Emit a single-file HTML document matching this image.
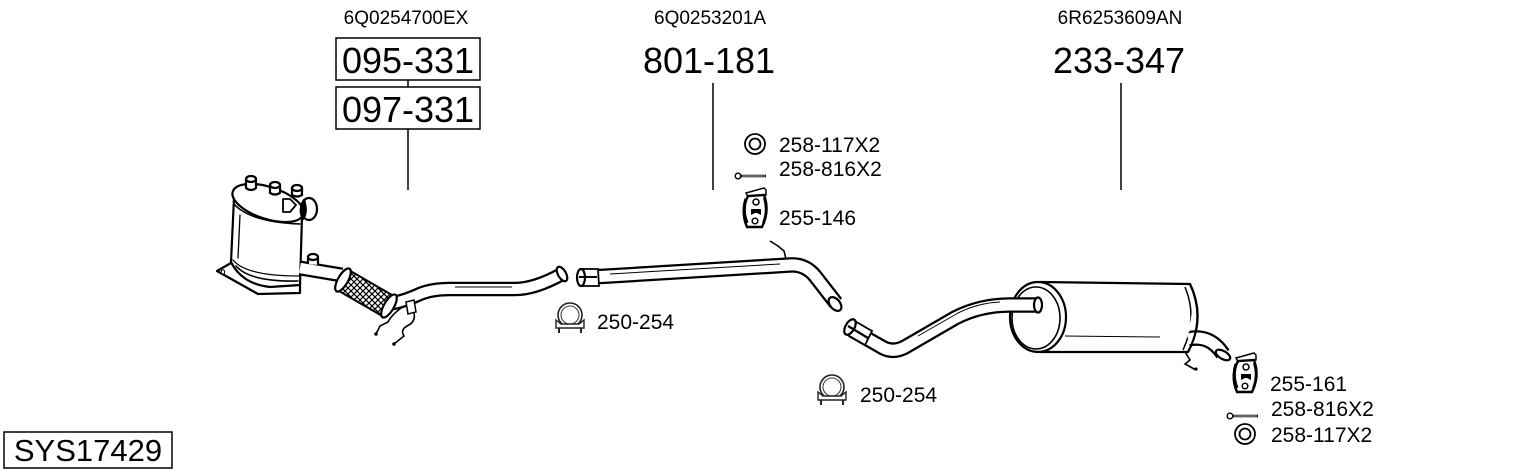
<!DOCTYPE html>
<html><head><meta charset="utf-8"><style>
html,body{margin:0;padding:0;background:#fff;}
svg{display:block;}
text{font-family:"Liberation Sans",Arial,sans-serif;fill:#000;}
</style></head><body>
<svg width="1530" height="474" viewBox="0 0 1530 474" xmlns="http://www.w3.org/2000/svg">
<defs>
<pattern id="hatch" width="6" height="6" patternUnits="userSpaceOnUse">
<rect width="6" height="6" fill="#fff"/>
<path d="M0,0 L6,6 M6,0 L0,6" stroke="#000" stroke-width="1.2"/>
</pattern>
<g id="hanger">
<path d="M4,8 L22,3 L24,5 L24,10 L6,12 Z" fill="#fff" stroke="#000" stroke-width="1.5"/>
<path d="M6,11 Q-2,26 5,42 L20,42 Q28,26 22,10 Z" fill="#fff" stroke="#000" stroke-width="2.4"/>
<path d="M4,14 Q0,26 5,38" fill="none" stroke="#000" stroke-width="3.2"/>
<path d="M22,13 Q26,26 21,38" fill="none" stroke="#000" stroke-width="2"/>
<circle cx="14" cy="17" r="3" fill="#fff" stroke="#000" stroke-width="1.5"/>
<path d="M9,24 L19,24 L19,30 L15,28 L13,28 L9,30 Z" fill="#000"/>
<circle cx="13" cy="36" r="2.8" fill="#fff" stroke="#000" stroke-width="1.5"/>
</g>
<g id="clamp">
<circle cx="15" cy="13" r="12" fill="#fff" stroke="#222" stroke-width="1.6"/>
<circle cx="15" cy="13" r="9" fill="#fff" stroke="#444" stroke-width="1.1"/>
<path d="M1,18 L6,22 L24,22 L29,18 L29,26 L1,26 Z" fill="#fff" stroke="#222" stroke-width="1.4"/>
<path d="M4,26 L4,31 M26,26 L26,31" stroke="#222" stroke-width="2"/>
</g>
<g id="washer">
<circle cx="0" cy="0" r="10" fill="#fff" stroke="#000" stroke-width="1.8"/>
<circle cx="0" cy="0" r="5.5" fill="#fff" stroke="#000" stroke-width="1.8"/>
</g>
<g id="bolt">
<circle cx="3" cy="0" r="2.8" fill="#fff" stroke="#000" stroke-width="1.4"/>
<path d="M6,0 L31,0" stroke="#000" stroke-width="2.4"/>
<path d="M7,0 L30,0" stroke="#fff" stroke-width="0.8"/>
</g>
</defs>

<!-- top labels -->
<text x="406" y="24" font-size="19" text-anchor="middle">6Q0254700EX</text>
<text x="710" y="24" font-size="19" text-anchor="middle">6Q0253201A</text>
<text x="1120" y="24" font-size="19" text-anchor="middle">6R6253609AN</text>

<rect x="336" y="38" width="144" height="42" fill="#fff" stroke="#000" stroke-width="1.5"/>
<text x="408" y="73" font-size="36" text-anchor="middle">095-331</text>
<line x1="408" y1="80" x2="408" y2="87" stroke="#000" stroke-width="1.5"/>
<rect x="336" y="87" width="144" height="42" fill="#fff" stroke="#000" stroke-width="1.5"/>
<text x="408" y="122" font-size="36" text-anchor="middle">097-331</text>
<line x1="408" y1="129" x2="408" y2="190" stroke="#000" stroke-width="1.5"/>

<text x="709" y="73" font-size="36" text-anchor="middle">801-181</text>
<line x1="713" y1="83" x2="713" y2="190" stroke="#000" stroke-width="1.5"/>
<text x="1119" y="73" font-size="36" text-anchor="middle">233-347</text>
<line x1="1121" y1="83" x2="1121" y2="190" stroke="#000" stroke-width="1.5"/>

<!-- SYS box -->
<rect x="4" y="432" width="168" height="36" fill="#fff" stroke="#000" stroke-width="1.5"/>
<text x="88" y="461" font-size="31" text-anchor="middle">SYS17429</text>

<!-- ===== Catalyst / DPF ===== -->
<g stroke="#000" stroke-width="2.2" fill="#fff" stroke-linejoin="round" stroke-linecap="round">
<path d="M217,271 L231,263 L262,283 L300,283 L300,293 L258,294 Z"/>
<path d="M222,272 m-0.5,0 a1.6,1.6 0 1,0 3,0 a1.6,1.6 0 1,0 -3,0" stroke-width="1"/>
<path d="M234,198 L231,262 Q242,284 270,287 L300,285 L302,216 Z"/>
<path d="M236,266 Q250,282 298,281" fill="none" stroke-width="1.6"/>
<path d="M233,260 Q246,276 299,276" fill="none" stroke-width="1.3"/>
<path d="M240,215 L238,258" fill="none" stroke-width="1.3"/>
<ellipse cx="268" cy="203" rx="37" ry="16" transform="rotate(18 268 203)"/>
<path d="M234,204 Q250,222 300,224" fill="none" stroke-width="1.6"/>
<!-- nozzles -->
<path d="M246,179 L246,188 Q251,192 256,188 L256,179" />
<ellipse cx="251" cy="179" rx="5" ry="3"/>
<path d="M270,185 L270,193 Q275,196 280,193 L280,185"/>
<ellipse cx="275" cy="185" rx="5" ry="3"/>
<path d="M292,188 L292,195 Q297,198 302,195 L302,188"/>
<ellipse cx="297" cy="188" rx="5" ry="3"/>
<path d="M283,199 L290,199 L296,205 L290,212 L283,212 Z" stroke-width="1.8"/>
<ellipse cx="309" cy="209" rx="8" ry="11"/>
<path d="M304,200 Q298,210 303,219 Q308,212 304,200 Z" fill="#000"/>
</g>

<!-- left pipe (outlet + downpipe) -->
<g fill="none" stroke-linecap="butt" stroke-linejoin="round">
<path d="M300,268 L342,275" stroke="#000" stroke-width="15"/>
<path d="M300,268 L342,275" stroke="#fff" stroke-width="10.5"/>
<path d="M386,304 Q400,303 420,294 Q432,289 450,289 L515,289 Q535,289 562,274" stroke="#000" stroke-width="14.5"/>
<path d="M386,304 Q400,303 420,294 Q432,289 450,289 L515,289 Q535,289 562,274" stroke="#fff" stroke-width="10"/>
<path d="M455,287 L512,287" stroke="#000" stroke-width="1"/>
<!-- flex -->
<path d="M343,280 L388,306" stroke="#000" stroke-width="25"/>
<path d="M343,280 L388,306" stroke="url(#hatch)" stroke-width="21"/>
</g>
<g stroke="#000" stroke-width="2.2" fill="#fff">
<ellipse cx="343" cy="280" rx="5" ry="13" transform="rotate(30 343 280)"/>
<ellipse cx="389" cy="306" rx="5" ry="13" transform="rotate(30 389 306)"/>
<ellipse cx="562" cy="274" rx="4" ry="8" transform="rotate(-30 562 274)"/>
<path d="M308,264 L308,257 Q313,254 318,257 L318,265" />
<ellipse cx="313" cy="257" rx="5" ry="3"/>
<path d="M406,302 L414,300 L416,312 L408,314 Z" stroke-width="1.5"/>
</g>
<g fill="none" stroke="#000" stroke-width="1.6">
<path d="M404,306 Q392,314 388,322 L380,326 L376,334"/>
<path d="M414,313 Q416,322 407,326 Q400,330 404,336 L394,344"/>
</g>
<circle cx="376" cy="334" r="1.8" fill="#000"/>
<circle cx="394" cy="344" r="1.8" fill="#000"/>

<!-- clamp 1 -->
<use href="#clamp" x="555" y="302"/>
<text x="597" y="329" font-size="21">250-254</text>

<!-- ===== middle pipe ===== -->
<g fill="none" stroke-linejoin="round">
<path d="M592,277 L790,265 Q805,264 815,276 L836,303" stroke="#000" stroke-width="15.5"/>
<path d="M592,277 L790,265 Q805,264 815,276 L836,303" stroke="#fff" stroke-width="11"/>
<path d="M610,274 L780,264" stroke="#000" stroke-width="1"/>
<path d="M770,241 L778,246 L784,251 L786,259" stroke="#000" stroke-width="1.6"/>
</g>
<g stroke="#000" stroke-width="2.2" fill="#fff">
<path d="M581,269 L598,269 L599,286 L581,286 Z" stroke-width="1.8"/>
<ellipse cx="581" cy="277.5" rx="4" ry="8.5"/>
<path d="M579,277 L597,277" stroke-width="2"/>
<ellipse cx="835" cy="304" rx="5" ry="8" transform="rotate(-40 835 304)"/>
</g>

<!-- middle small parts -->
<use href="#washer" x="755" y="144"/>
<text x="779" y="152" font-size="21">258-117X2</text>
<use href="#bolt" x="735" y="176"/>
<text x="779" y="176" font-size="21">258-816X2</text>
<use href="#hanger" x="742" y="185"/>
<text x="779" y="225" font-size="21">255-146</text>

<!-- ===== muffler ===== -->
<g stroke="#000" stroke-width="2.2" fill="#fff" stroke-linejoin="round">
<path d="M1040,282 L1190,284 Q1206,318 1188,352 L1040,352 Z"/>
<path d="M1065,336 L1160,337" fill="none" stroke-width="1"/>
<path d="M1185,287 Q1198,318 1183,350" fill="none" stroke-width="1.5"/>
</g>
<!-- tail pipe -->
<g fill="none">
<path d="M1188,339 Q1210,334 1223,354" stroke="#000" stroke-width="15.5"/>
<path d="M1188,339 Q1210,334 1223,354" stroke="#fff" stroke-width="11"/>
</g>
<g stroke="#000" stroke-width="2.2" fill="#fff">
<path d="M1186,334 Q1198,318 1190,290" fill="none" stroke="#fff" stroke-width="3"/>
<path d="M1190,284 Q1206,318 1188,352" fill="none"/>
<ellipse cx="1223" cy="355" rx="4" ry="8" transform="rotate(-60 1223 355)"/>
<ellipse cx="1038" cy="317" rx="28" ry="35"/>
<ellipse cx="1036" cy="318" rx="24" ry="31" stroke-width="1.6"/>
</g>
<path d="M1185,352 L1190,360 L1185,364 L1196,370" fill="none" stroke="#000" stroke-width="1.6"/>
<circle cx="1196" cy="369" r="1.6" fill="#000"/>

<!-- rear pipe -->
<g fill="none" stroke-linejoin="round">
<path d="M852,330 L880,346 Q892,354 905,347 L955,318 Q980,305 1010,305 L1037,305" stroke="#000" stroke-width="15.5"/>
<path d="M852,330 L880,346 Q892,354 905,347 L955,318 Q980,305 1010,305 L1037,305" stroke="#fff" stroke-width="11"/>
<path d="M918,336 L958,313 Q978,303 1000,302" stroke="#000" stroke-width="1"/>
</g>
<g stroke="#000" stroke-width="2.2" fill="#fff">
<ellipse cx="1038" cy="305" rx="4" ry="7.5"/>
<path d="M853,320 L872,331 L865,345 L846,334 Z" stroke-width="1.8"/>
<ellipse cx="850" cy="327" rx="4.5" ry="8.5" transform="rotate(30 850 327)"/>
<path d="M848,326 L868,338"/>
</g>

<!-- clamp 2 -->
<use href="#clamp" x="817" y="374"/>
<text x="860" y="402" font-size="21">250-254</text>

<!-- right small parts -->
<use href="#hanger" x="1232" y="350"/>
<text x="1270" y="391" font-size="21">255-161</text>
<use href="#bolt" x="1227" y="416"/>
<text x="1271" y="416" font-size="21">258-816X2</text>
<use href="#washer" x="1245" y="434"/>
<text x="1271" y="442" font-size="21">258-117X2</text>
</svg>
</body></html>
